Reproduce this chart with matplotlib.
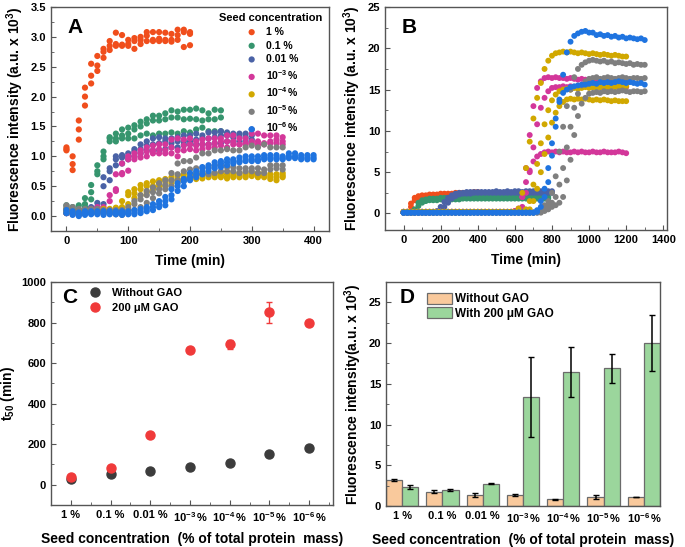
import numpy as np
import matplotlib
matplotlib.use("Agg")
import matplotlib.pyplot as plt
from matplotlib.ticker import MultipleLocator
from matplotlib.lines import Line2D

plt.rcParams['font.family'] = ['Liberation Sans', 'DejaVu Sans']
plt.rcParams['font.weight'] = 'bold'
plt.rcParams['axes.labelweight'] = 'bold'
plt.rcParams['mathtext.fontset'] = 'custom'
plt.rcParams['mathtext.rm'] = 'Liberation Sans:bold'
plt.rcParams['mathtext.it'] = 'Liberation Sans:bold:italic'
plt.rcParams['mathtext.bf'] = 'Liberation Sans:bold'
plt.rcParams['mathtext.default'] = 'rm'

# ---------------- Panel A data (time in min, three replicates each) ----------------
seed_labels = ['1 %', '0.1 %', '0.01 %', '10$^{-3}\\!$ %', '10$^{-4}\\!$ %', '10$^{-5}\\!$ %', '10$^{-6}\\!$ %']
seed_colors = ['#f04e1c', '#36956e', '#4a62a6', '#d3379a', '#d1a800', '#7f7f7f', '#1f74e0']

a_t_1 = list(range(0, 201, 10))
a_1 = [[1.15, 1.12, 1.10], [1.00, 0.87, 0.77], [1.60, 1.45, 1.28], [2.15, 2.00, 1.85], [2.55, 2.35, 2.22],
       [2.68, 2.52, 2.43], [2.80, 2.75, 2.65], [2.93, 2.85, 2.78], [3.07, 2.88, 2.85], [3.03, 2.87, 2.85],
       [2.95, 2.88, 2.85], [2.98, 2.93, 2.80], [3.00, 2.95, 2.88], [3.08, 3.02, 2.93], [3.08, 2.95, 2.93],
       [3.08, 2.97, 2.93], [3.07, 2.95, 2.93], [3.05, 2.95, 2.92], [3.12, 3.03, 2.95], [3.12, 3.08, 2.83],
       [3.08, 3.05, 2.86]]

a_t_01 = list(range(0, 251, 10))
a_01 = [[0.18, 0.12, 0.10], [0.15, 0.10, 0.08], [0.18, 0.10, 0.08], [0.30, 0.20, 0.15], [0.52, 0.40, 0.28],
        [0.85, 0.75, 0.70], [1.08, 1.00, 0.95], [1.32, 1.30, 1.25], [1.38, 1.30, 1.25], [1.45, 1.35, 1.30],
        [1.48, 1.38, 1.30], [1.52, 1.45, 1.30], [1.58, 1.50, 1.35], [1.62, 1.55, 1.38], [1.68, 1.60, 1.35],
        [1.68, 1.60, 1.38], [1.72, 1.62, 1.38], [1.77, 1.65, 1.40], [1.75, 1.65, 1.38], [1.78, 1.62, 1.42],
        [1.78, 1.63, 1.40], [1.80, 1.62, 1.45], [1.77, 1.60, 1.48], [1.72, 1.62, 1.42], [1.78, 1.62, 1.42],
        [1.77, 1.65, 1.42]]

a_t_001 = list(range(0, 301, 10))
a_001 = [[0.10, 0.08, 0.05], [0.10, 0.05, 0.05], [0.08, 0.05, 0.03], [0.10, 0.05, 0.05], [0.15, 0.10, 0.08],
         [0.22, 0.15, 0.10], [0.65, 0.50, 0.20], [0.80, 0.75, 0.60], [1.00, 0.95, 0.85], [1.02, 0.98, 0.88],
         [1.05, 1.00, 0.95], [1.12, 1.08, 1.00], [1.20, 1.12, 1.05], [1.25, 1.18, 1.10], [1.30, 1.20, 1.10],
         [1.32, 1.22, 1.10], [1.30, 1.25, 1.12], [1.30, 1.22, 1.15], [1.32, 1.25, 1.15], [1.35, 1.25, 1.20],
         [1.35, 1.25, 1.20], [1.38, 1.28, 1.20], [1.35, 1.30, 1.20], [1.40, 1.30, 1.20], [1.40, 1.32, 1.22],
         [1.42, 1.35, 1.22], [1.40, 1.35, 1.25], [1.38, 1.32, 1.25], [1.38, 1.35, 1.25], [1.38, 1.32, 1.25],
         [1.45, 1.35, 1.28]]

a_t_e3 = list(range(0, 351, 10))
a_e3 = [[0.10, 0.05, 0.05], [0.08, 0.05, 0.03], [0.08, 0.05, 0.02], [0.10, 0.06, 0.05], [0.12, 0.08, 0.05],
        [0.15, 0.10, 0.10], [0.15, 0.10, 0.08], [0.35, 0.25, 0.10], [0.70, 0.45, 0.42], [0.88, 0.72, 0.70],
        [1.00, 0.95, 0.76], [1.05, 1.00, 0.95], [1.10, 1.05, 0.98], [1.15, 1.08, 1.00], [1.18, 1.10, 1.05],
        [1.20, 1.12, 1.05], [1.20, 1.10, 1.05], [1.28, 1.15, 1.05], [1.30, 1.10, 1.00], [1.28, 1.18, 1.10],
        [1.30, 1.20, 1.12], [1.25, 1.18, 1.10], [1.28, 1.20, 1.12], [1.30, 1.20, 1.15], [1.30, 1.22, 1.15],
        [1.30, 1.25, 1.18], [1.35, 1.25, 1.15], [1.35, 1.25, 1.20], [1.30, 1.20, 1.20], [1.30, 1.22, 1.20],
        [1.38, 1.25, 1.22], [1.38, 1.25, 1.20], [1.35, 1.22, 1.20], [1.35, 1.25, 1.22], [1.35, 1.28, 1.22],
        [1.32, 1.25, 1.20]]

a_t_e4 = list(range(0, 351, 10))
a_e4 = [[0.12, 0.08, 0.05], [0.10, 0.06, 0.04], [0.08, 0.05, 0.03], [0.10, 0.06, 0.04], [0.10, 0.07, 0.05],
        [0.10, 0.07, 0.05], [0.12, 0.08, 0.05], [0.12, 0.08, 0.06], [0.14, 0.10, 0.07], [0.25, 0.15, 0.12],
        [0.40, 0.35, 0.20], [0.45, 0.38, 0.30], [0.52, 0.45, 0.35], [0.55, 0.50, 0.40], [0.58, 0.50, 0.45],
        [0.60, 0.55, 0.50], [0.62, 0.58, 0.50], [0.65, 0.60, 0.55], [0.68, 0.62, 0.58], [0.70, 0.65, 0.60],
        [0.70, 0.65, 0.62], [0.72, 0.68, 0.62], [0.72, 0.68, 0.63], [0.72, 0.68, 0.65], [0.72, 0.68, 0.65],
        [0.72, 0.68, 0.65], [0.70, 0.66, 0.63], [0.72, 0.68, 0.65], [0.72, 0.68, 0.65], [0.72, 0.68, 0.65],
        [0.72, 0.70, 0.67], [0.72, 0.68, 0.65], [0.72, 0.68, 0.65], [0.70, 0.66, 0.62], [0.70, 0.65, 0.60],
        [0.72, 0.68, 0.65]]

a_t_e5 = list(range(0, 351, 10))
a_e5 = [[0.18, 0.15, 0.10], [0.15, 0.12, 0.08], [0.12, 0.10, 0.06], [0.12, 0.10, 0.06], [0.12, 0.08, 0.05],
        [0.12, 0.08, 0.05], [0.10, 0.08, 0.05], [0.10, 0.06, 0.04], [0.10, 0.06, 0.03], [0.10, 0.05, 0.02],
        [0.15, 0.10, 0.05], [0.25, 0.20, 0.10], [0.35, 0.28, 0.15], [0.42, 0.35, 0.22], [0.48, 0.40, 0.30],
        [0.55, 0.45, 0.38], [0.60, 0.52, 0.45], [0.72, 0.60, 0.50], [0.88, 0.70, 0.60], [0.92, 0.75, 0.62],
        [0.92, 0.78, 0.65], [0.98, 0.80, 0.68], [1.05, 0.80, 0.70], [1.05, 0.82, 0.70], [1.10, 0.85, 0.72],
        [1.10, 0.85, 0.75], [1.12, 0.82, 0.75], [1.10, 0.82, 0.75], [1.10, 0.80, 0.72], [1.15, 0.80, 0.75],
        [1.18, 0.80, 0.75], [1.15, 0.80, 0.72], [1.20, 0.78, 0.72], [1.15, 0.85, 0.78], [1.15, 0.85, 0.80],
        [1.15, 0.85, 0.78]]

a_t_e6 = list(range(0, 401, 10))
a_e6 = [[0.10, 0.05, 0.05], [0.08, 0.05, 0.02], [0.06, 0.03, 0.00], [0.08, 0.05, 0.02], [0.08, 0.05, 0.03],
        [0.08, 0.05, 0.03], [0.08, 0.05, 0.02], [0.08, 0.05, 0.03], [0.08, 0.05, 0.03], [0.08, 0.05, 0.02],
        [0.08, 0.05, 0.03], [0.10, 0.06, 0.03], [0.12, 0.08, 0.05], [0.15, 0.12, 0.08], [0.20, 0.15, 0.10],
        [0.25, 0.20, 0.15], [0.32, 0.25, 0.18], [0.45, 0.35, 0.28], [0.55, 0.50, 0.42], [0.62, 0.58, 0.50],
        [0.72, 0.65, 0.60], [0.75, 0.70, 0.65], [0.82, 0.75, 0.70], [0.85, 0.80, 0.75], [0.90, 0.85, 0.80],
        [0.92, 0.88, 0.82], [0.95, 0.90, 0.85], [0.95, 0.92, 0.88], [0.98, 0.92, 0.90], [1.00, 0.95, 0.92],
        [1.00, 0.95, 0.92], [1.00, 0.95, 0.92], [1.02, 0.98, 0.95], [1.02, 0.98, 0.95], [1.02, 0.98, 0.95],
        [1.00, 0.97, 0.95], [1.05, 1.00, 0.97], [1.05, 1.00, 0.97], [1.02, 0.98, 0.95], [1.02, 0.98, 0.95],
        [1.02, 0.98, 0.95]]

# ---------------- Panel B data (with 200 uM GAO, sampled every 20 min) ----------------
b_t_1 = list(range(0, 401, 20))
b_1 = [
    [0.1, 0.2, 1.2, 1.9, 2.1, 2.2, 2.2, 2.3, 2.3, 2.3, 2.4, 2.4, 2.4, 2.4, 2.5, 2.5, 2.5, 2.5, 2.5, 2.6, 2.6],
    [0.1, 0.1, 0.8, 1.6, 1.9, 2.0, 2.1, 2.1, 2.2, 2.2, 2.2, 2.3, 2.3, 2.3, 2.3, 2.4, 2.4, 2.4, 2.4, 2.4, 2.5],
]
b_t_01 = list(range(0, 781, 20))
b_01 = [
    [0.1, 0.1, 0.1, 0.5, 1.3, 1.6, 1.7, 1.8, 1.8, 1.8, 1.9, 1.9, 1.9, 1.9, 1.9, 2.0, 2.0, 2.0, 2.0, 2.0,
     2.0, 2.0, 2.0, 2.0, 2.0, 2.0, 2.1, 2.0, 2.0, 2.1, 2.0, 2.0, 2.1, 2.0, 2.0, 2.1, 2.0, 2.0, 2.0, 2.0],
    [0.1, 0.1, 0.1, 0.2, 0.9, 1.3, 1.5, 1.6, 1.6, 1.6, 1.7, 1.7, 1.7, 1.7, 1.7, 1.7, 1.8, 1.8, 1.8, 1.8,
     1.8, 1.8, 1.8, 1.8, 1.8, 1.8, 1.8, 1.8, 1.8, 1.8, 1.8, 1.8, 1.8, 1.8, 1.8, 1.8, 1.8, 1.8, 1.8, 1.8],
]
b_t_001 = list(range(0, 801, 20))
b_001 = [
    [0.1, 0.1, 0.1, 0.1, 0.1, 0.1, 0.1, 0.1, 0.1, 0.3, 0.8, 1.4, 1.9, 2.2, 2.4, 2.5, 2.5, 2.6, 2.6, 2.6,
     2.6, 2.6, 2.6, 2.6, 2.6, 2.7, 2.6, 2.6, 2.7, 2.6, 2.7, 2.7, 2.6, 2.7, 2.7, 2.7, 2.7, 2.7, 2.7, 2.7, 2.7],
    [0.1, 0.1, 0.1, 0.1, 0.1, 0.1, 0.1, 0.1, 0.1, 0.1, 0.3, 0.8, 1.3, 1.8, 2.1, 2.3, 2.4, 2.4, 2.4, 2.5,
     2.5, 2.5, 2.5, 2.5, 2.5, 2.5, 2.5, 2.5, 2.5, 2.5, 2.5, 2.5, 2.5, 2.5, 2.5, 2.5, 2.5, 2.5, 2.5, 2.5, 2.5],
]
b_t_e3 = list(range(0, 1201, 20))
b_e3 = [
    [0.2, 0.2, 0.2, 0.2, 0.2, 0.2, 0.2, 0.2, 0.2, 0.2, 0.2, 0.2, 0.2, 0.2, 0.2, 0.2, 0.2, 0.2, 0.2, 0.2,
     0.2, 0.2, 0.2, 0.2, 0.2, 0.2, 0.2, 0.2, 0.2, 0.2, 0.3, 0.5, 2.0, 5.5, 9.5, 13.0, 15.2, 16.0, 16.4, 16.5,
     16.4, 16.5, 16.4, 16.4, 16.3, 16.4, 16.3, 16.2, 16.3, 16.2, 16.2, 16.1, 16.2, 16.1, 16.0, 16.1, 16.0, 16.0,
     15.9, 16.0, 15.9],
    [0.2, 0.2, 0.2, 0.2, 0.2, 0.2, 0.2, 0.2, 0.2, 0.2, 0.2, 0.2, 0.2, 0.2, 0.2, 0.2, 0.2, 0.2, 0.2, 0.2,
     0.2, 0.2, 0.2, 0.2, 0.2, 0.2, 0.2, 0.2, 0.2, 0.2, 0.2, 0.3, 0.8, 2.5, 5.0, 8.0, 10.8, 12.8, 14.0, 14.8,
     15.2, 15.3, 15.3, 15.4, 15.3, 15.4, 15.3, 15.4, 15.3, 15.4, 15.3, 15.3, 15.4, 15.3, 15.4, 15.3, 15.3, 15.4,
     15.3, 15.3, 15.3],
    [0.2, 0.2, 0.2, 0.2, 0.2, 0.2, 0.2, 0.2, 0.2, 0.2, 0.2, 0.2, 0.2, 0.2, 0.2, 0.2, 0.2, 0.2, 0.2, 0.2,
     0.2, 0.2, 0.2, 0.2, 0.2, 0.2, 0.2, 0.2, 0.2, 0.2, 0.3, 0.6, 2.0, 3.8, 5.2, 6.3, 6.9, 7.2, 7.4, 7.5,
     7.4, 7.5, 7.4, 7.5, 7.4, 7.4, 7.5, 7.4, 7.5, 7.4, 7.4, 7.5, 7.4, 7.4, 7.5, 7.4, 7.4, 7.4, 7.5, 7.4, 7.3],
]
b_t_e4 = list(range(0, 1201, 20))
b_e4 = [
    [0.2, 0.2, 0.2, 0.2, 0.2, 0.2, 0.2, 0.2, 0.2, 0.2, 0.2, 0.2, 0.2, 0.2, 0.2, 0.2, 0.2, 0.2, 0.2, 0.2,
     0.2, 0.2, 0.2, 0.2, 0.2, 0.2, 0.2, 0.2, 0.2, 0.2, 0.2, 0.6, 2.5, 5.5, 8.7, 11.5, 14.0, 15.8, 17.5, 18.5,
     19.1, 19.4, 19.5, 19.6, 19.5, 19.6, 19.5, 19.4, 19.5, 19.4, 19.3, 19.4, 19.3, 19.2, 19.3, 19.2, 19.1, 19.2,
     19.1, 19.0, 19.0],
    [0.2, 0.2, 0.2, 0.2, 0.2, 0.2, 0.2, 0.2, 0.2, 0.2, 0.2, 0.2, 0.2, 0.2, 0.2, 0.2, 0.2, 0.2, 0.2, 0.2,
     0.2, 0.2, 0.2, 0.2, 0.2, 0.2, 0.2, 0.2, 0.2, 0.2, 0.2, 0.2, 0.2, 0.5, 1.5, 3.5, 6.0, 8.5, 10.8, 12.5,
     13.7, 14.4, 14.8, 15.0, 15.1, 15.0, 15.2, 15.1, 15.2, 15.3, 15.2, 15.3, 15.2, 15.3, 15.4, 15.3, 15.4, 15.3,
     15.4, 15.4, 15.4],
    [0.2, 0.2, 0.2, 0.2, 0.2, 0.2, 0.2, 0.2, 0.2, 0.2, 0.2, 0.2, 0.2, 0.2, 0.2, 0.2, 0.2, 0.2, 0.2, 0.2,
     0.2, 0.2, 0.2, 0.2, 0.2, 0.2, 0.2, 0.2, 0.2, 0.2, 0.2, 0.2, 0.2, 0.2, 0.5, 1.5, 3.0, 5.0, 7.2, 9.2,
     11.0, 12.2, 13.0, 13.5, 13.8, 13.9, 13.8, 13.9, 13.8, 13.9, 13.8, 13.7, 13.8, 13.7, 13.8, 13.7, 13.6, 13.7,
     13.6, 13.6, 13.6],
]
b_t_e5 = list(range(0, 1301, 20))
b_e5 = [
    [0.1, 0.1, 0.1, 0.1, 0.1, 0.1, 0.1, 0.1, 0.1, 0.1, 0.1, 0.1, 0.1, 0.1, 0.1, 0.1, 0.1, 0.1, 0.1, 0.1,
     0.1, 0.1, 0.1, 0.1, 0.1, 0.1, 0.1, 0.1, 0.1, 0.1, 0.1, 0.1, 0.1, 0.1, 0.1, 0.1, 0.3, 0.6, 1.0, 1.5,
     2.5, 4.5, 7.5, 10.5, 13.0, 15.0, 16.5, 17.5, 18.0, 18.3, 18.5, 18.6, 18.5, 18.4, 18.5, 18.3, 18.4, 18.2,
     18.3, 18.2, 18.1, 18.2, 18.0, 18.1, 18.0, 18.0],
    [0.1, 0.1, 0.1, 0.1, 0.1, 0.1, 0.1, 0.1, 0.1, 0.1, 0.1, 0.1, 0.1, 0.1, 0.1, 0.1, 0.1, 0.1, 0.1, 0.1,
     0.1, 0.1, 0.1, 0.1, 0.1, 0.1, 0.1, 0.1, 0.1, 0.1, 0.1, 0.1, 0.1, 0.1, 0.1, 0.1, 0.1, 0.3, 0.6, 1.0,
     1.3, 2.0, 3.5, 5.5, 8.0, 10.5, 12.8, 14.5, 15.5, 16.0, 16.3, 16.4, 16.5, 16.3, 16.4, 16.5, 16.4, 16.3,
     16.4, 16.5, 16.4, 16.3, 16.4, 16.4, 16.3, 16.4],
    [0.1, 0.1, 0.1, 0.1, 0.1, 0.1, 0.1, 0.1, 0.1, 0.1, 0.1, 0.1, 0.1, 0.1, 0.1, 0.1, 0.1, 0.1, 0.1, 0.1,
     0.1, 0.1, 0.1, 0.1, 0.1, 0.1, 0.1, 0.1, 0.1, 0.1, 0.1, 0.1, 0.1, 0.1, 0.1, 0.1, 0.1, 0.1, 0.3, 0.5,
     0.8, 1.0, 1.3, 2.0, 4.0, 6.5, 9.5, 11.8, 13.3, 14.0, 14.5, 14.6, 14.7, 14.6, 14.8, 14.7, 14.8, 14.7,
     14.8, 14.9, 14.8, 14.7, 14.8, 14.8, 14.7, 14.8],
]
b_t_e6 = list(range(0, 1301, 20))
b_e6 = [
    [0.1, 0.1, 0.1, 0.1, 0.1, 0.1, 0.1, 0.1, 0.1, 0.1, 0.1, 0.1, 0.1, 0.1, 0.1, 0.1, 0.1, 0.1, 0.1, 0.1,
     0.1, 0.1, 0.1, 0.1, 0.1, 0.1, 0.1, 0.1, 0.1, 0.1, 0.1, 0.1, 0.1, 0.1, 0.1, 0.1, 0.2, 0.8, 2.0, 3.8,
     7.0, 10.5, 13.8, 16.8, 19.5, 20.8, 21.5, 21.8, 22.0, 22.1, 21.9, 21.9, 21.6, 21.7, 21.5, 21.6, 21.4, 21.5,
     21.3, 21.4, 21.2, 21.3, 21.2, 21.1, 21.2, 21.0],
    [0.1, 0.1, 0.1, 0.1, 0.1, 0.1, 0.1, 0.1, 0.1, 0.1, 0.1, 0.1, 0.1, 0.1, 0.1, 0.1, 0.1, 0.1, 0.1, 0.1,
     0.1, 0.1, 0.1, 0.1, 0.1, 0.1, 0.1, 0.1, 0.1, 0.1, 0.1, 0.1, 0.1, 0.1, 0.1, 0.1, 0.4, 1.5, 3.0, 5.5,
     8.5, 11.5, 13.5, 14.6, 15.0, 15.3, 15.4, 15.5, 15.6, 15.6, 15.7, 15.8, 15.7, 15.9, 15.8, 15.9, 15.8, 15.9,
     16.0, 15.9, 15.8, 15.9, 15.8, 15.7, 15.8, 15.6],
]

# ---------------- Panel C data (t50, min) ----------------
cat_labels = ['1 %', '0.1 %', '0.01 %', '10$^{-3}\\!$ %', '10$^{-4}\\!$ %', '10$^{-5}\\!$ %', '10$^{-6}\\!$ %']
t50_without = [30, 54, 67, 85, 107, 150, 181]
t50_without_err = [3, 3, 3, 3, 3, 3, 3]
t50_gao = [38, 84, 247, 666, 692, 850, 797]
t50_gao_err = [4, 4, 6, 8, 22, 52, 8]

# ---------------- Panel D data (final fluorescence, a.u. x 10^3) ----------------
fl_without = [3.2, 1.75, 1.4, 1.35, 0.8, 1.05, 1.1]
fl_without_err = [0.15, 0.2, 0.25, 0.1, 0.1, 0.25, 0.05]
fl_gao = [2.35, 2.0, 2.75, 13.4, 16.45, 16.9, 20.0]
fl_gao_err = [0.25, 0.1, 0.1, 4.9, 3.1, 1.8, 3.4]

# ---------------- Figure ----------------
fig = plt.figure(figsize=(6.85, 5.47), dpi=100)
W, H = 685, 547
def ax_at(l, t, r, b):
    return fig.add_axes([l / W, 1 - b / H, (r - l) / W, (b - t) / H])

axA = ax_at(51, 7, 329, 231)
axB = ax_at(385, 7, 667, 230)
axC = ax_at(51, 282, 333, 505)
axD = ax_at(386, 282, 660, 506)

LBL = 10
TCK = 8
spine_col = '#555555'
def style(ax):
    for s in ax.spines.values():
        s.set_color(spine_col)
        s.set_linewidth(1.0)
    ax.tick_params(which='both', direction='in', top=False, right=False, color=spine_col,
                   labelsize=TCK)
    ax.tick_params(which='major', length=3.5)
    ax.tick_params(which='minor', length=2)
    for lab in ax.get_xticklabels() + ax.get_yticklabels():
        lab.set_fontweight('bold')

# Panel A
a_sets = [(a_t_1, a_1), (a_t_01, a_01), (a_t_001, a_001), (a_t_e3, a_e3),
          (a_t_e4, a_e4), (a_t_e5, a_e5), (a_t_e6, a_e6)]
for (tt, vals), col, lab in zip(a_sets, seed_colors, seed_labels):
    arr = np.array(vals)
    for k in range(arr.shape[1]):
        axA.scatter(tt, arr[:, k], s=20, color=col, edgecolors='none',
                    label=lab if k == 0 else None)
axA.set_xlim(-25, 425)
axA.set_ylim(-0.25, 3.5)
axA.xaxis.set_major_locator(MultipleLocator(100))
axA.xaxis.set_minor_locator(MultipleLocator(50))
axA.yaxis.set_major_locator(MultipleLocator(0.5))
axA.yaxis.set_minor_locator(MultipleLocator(0.25))
axA.set_xlabel('Time (min)', fontsize=LBL, fontweight='bold', labelpad=6)
axA.set_ylabel('Fluorescence intensity (a.u. x 10$^3$)', fontsize=LBL, fontweight='bold', labelpad=3)
axA.text(0.06, 0.95, 'A', transform=axA.transAxes, fontsize=15, fontweight='bold', va='top')
legA = axA.legend(title='Seed concentration', loc='upper right', frameon=False, fontsize=7.5,
                  title_fontproperties={'weight': 'bold', 'size': 8}, handletextpad=0.6,
                  labelspacing=0.35, borderaxespad=0.2, handlelength=1.6, markerscale=1.0,
                  bbox_to_anchor=(1.0, 1.0))
for t in legA.get_texts():
    t.set_fontweight('bold')
style(axA)

# Panel B
b_sets = [(b_t_1, b_1), (b_t_01, b_01), (b_t_001, b_001), (b_t_e3, b_e3),
          (b_t_e4, b_e4), (b_t_e5, b_e5), (b_t_e6, b_e6)]
for (tt, reps), col in zip(b_sets, seed_colors):
    for r in reps:
        axB.scatter(tt, r, s=18, color=col, edgecolors='none')
axB.set_xlim(-100, 1420)
axB.set_ylim(-2, 25)
axB.xaxis.set_major_locator(MultipleLocator(200))
axB.xaxis.set_minor_locator(MultipleLocator(100))
axB.yaxis.set_major_locator(MultipleLocator(5))
axB.yaxis.set_minor_locator(MultipleLocator(2.5))
axB.set_xlabel('Time (min)', fontsize=LBL, fontweight='bold', labelpad=6)
axB.set_ylabel('Fluorescence intensity (a.u. x 10$^3$)', fontsize=LBL, fontweight='bold', labelpad=3)
axB.text(0.06, 0.95, 'B', transform=axB.transAxes, fontsize=15, fontweight='bold', va='top')
style(axB)

# Panel C
xc = np.arange(len(cat_labels))
c_black = '#3c3c3c'
c_red = '#f03a3a'
axC.errorbar(xc, t50_without, yerr=t50_without_err, fmt='o', color=c_black, ms=6.5,
             ecolor=c_black, elinewidth=1, capsize=2)
axC.errorbar(xc, t50_gao, yerr=t50_gao_err, fmt='o', color=c_red, ms=6.5,
             ecolor=c_red, elinewidth=1, capsize=2)
axC.set_xlim(-0.5, 6.6)
axC.set_ylim(-100, 1000)
axC.set_xticks(xc)
axC.set_xticklabels(cat_labels)
axC.xaxis.set_minor_locator(MultipleLocator(0.5))
axC.yaxis.set_major_locator(MultipleLocator(200))
axC.yaxis.set_minor_locator(MultipleLocator(100))
axC.set_xlabel('Seed concentration  (% of total protein  mass)', fontsize=LBL, fontweight='bold', labelpad=6)
axC.set_ylabel('t$_{50}$ (min)', fontsize=LBL, fontweight='bold', labelpad=3)
axC.text(0.04, 0.975, 'C', transform=axC.transAxes, fontsize=15, fontweight='bold', va='top')
hC = [Line2D([], [], ls='none', marker='o', ms=6.5, color=c_black),
      Line2D([], [], ls='none', marker='o', ms=6.5, color=c_red)]
legC = axC.legend(hC, ['Without GAO', '200 \u03bcM GAO'], loc='upper left',
                  bbox_to_anchor=(0.09, 1.02), frameon=False, fontsize=8,
                  handletextpad=0.8, labelspacing=0.5, handlelength=1.5)
for t in legC.get_texts():
    t.set_fontweight('bold')
style(axC)

# Panel D
w = 0.4
axD.bar(xc - w / 2, fl_without, width=w, color='#f9c99c', edgecolor='#6b6b6b', linewidth=0.9,
        yerr=fl_without_err, capsize=2, error_kw={'elinewidth': 1.1, 'ecolor': 'black', 'capthick': 1},
        label='Without GAO')
axD.bar(xc + w / 2, fl_gao, width=w, color='#9bd69c', edgecolor='#6b6b6b', linewidth=0.9,
        yerr=fl_gao_err, capsize=2, error_kw={'elinewidth': 1.1, 'ecolor': 'black', 'capthick': 1},
        label='With 200 \u03bcM GAO')
axD.set_xlim(-0.4, 6.4)
axD.set_ylim(0, 27.5)
axD.set_xticks(xc)
axD.set_xticklabels(cat_labels)
axD.yaxis.set_major_locator(MultipleLocator(5))
axD.yaxis.set_minor_locator(MultipleLocator(2.5))
axD.set_xlabel('Seed concentration  (% of total protein  mass)', fontsize=LBL, fontweight='bold', labelpad=6)
axD.set_ylabel('Fluorescence intensity(a.u. x 10$^3$)', fontsize=LBL, fontweight='bold', labelpad=3)
axD.text(0.05, 0.975, 'D', transform=axD.transAxes, fontsize=15, fontweight='bold', va='top')
legD = axD.legend(loc='upper left', bbox_to_anchor=(0.11, 1.0), frameon=False, fontsize=8.5,
                  handlelength=2.1, handleheight=1.1, handletextpad=0.3, labelspacing=0.15)
for t in legD.get_texts():
    t.set_fontweight('bold')
style(axD)
axD.tick_params(axis='x', which='both', length=0)

fig.savefig('out.png', dpi=100)
